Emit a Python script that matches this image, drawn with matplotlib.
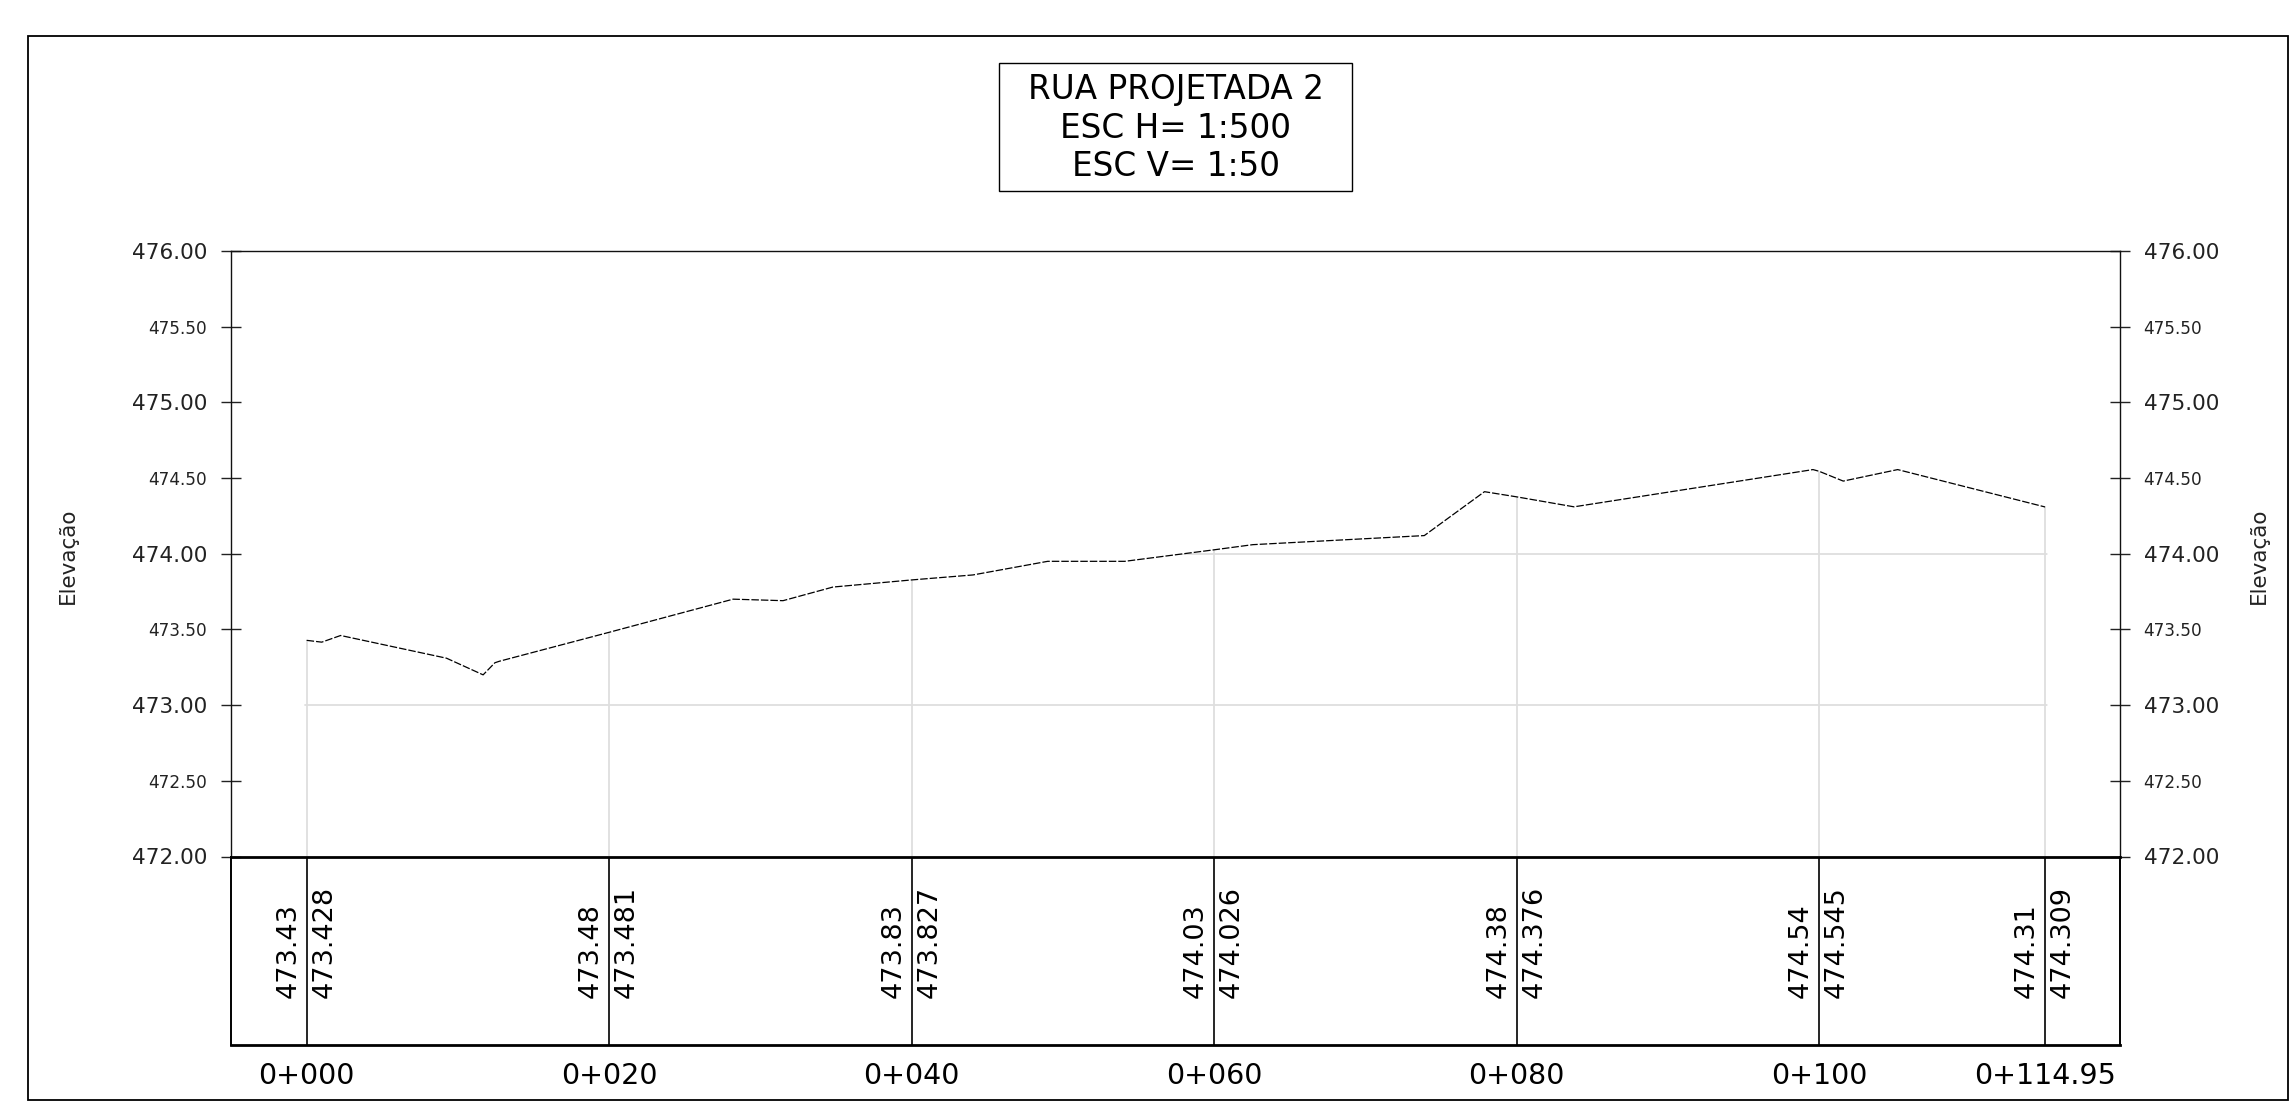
import matplotlib
matplotlib.use("Agg")
import matplotlib.pyplot as plt
from matplotlib.patches import Polygon, Rectangle
from matplotlib.ticker import FixedLocator, FormatStrFormatter
from matplotlib.transforms import ScaledTranslation, blended_transform_factory

# ---------------- data ----------------
# terrain profile (station in m, elevation in m)
profile_sta = [0, 1.0, 2.25, 9.25, 11.67, 12.45, 12.75, 20, 28.2, 31.5, 34.8, 40,
               44.06, 49.0, 54.1, 60, 62.56, 73.9, 77.88, 80, 83.8, 99.6, 100,
               101.6, 105.2, 114.95]
profile_elev = [473.428, 473.416, 473.46, 473.31, 473.20, 473.28, 473.29, 473.481,
                473.70, 473.69, 473.78, 473.827, 473.86, 473.95, 473.95, 474.026,
                474.06, 474.12, 474.41, 474.376, 474.31, 474.556, 474.545, 474.48,
                474.556, 474.309]
# stations shown in the band
stations = [0, 20, 40, 60, 80, 100, 114.95]
station_labels = ["0+000", "0+020", "0+040", "0+060", "0+080", "0+100", "0+114.95"]
band_rounded = ["473.43", "473.48", "473.83", "474.03", "474.38", "474.54", "474.31"]
band_exact = ["473.428", "473.481", "473.827", "474.026", "474.376", "474.545", "474.309"]
major_y = [472, 473, 474, 475, 476]
minor_y = [472.5, 473.5, 474.5, 475.5]
title_lines = ["RUA PROJETADA 2", "ESC H= 1:500", "ESC V= 1:50"]
y_label = "Elevação"

# ---------------- layout helpers ----------------
W, H = 2289, 1103
def fx(px):
    return px / W
def fy(py):
    return 1 - py / H

plt.rcParams['font.family'] = ['DejaVu Sans']
fig = plt.figure(figsize=(W / 100, H / 100), dpi=100)

AX_L, AX_R, AX_T, AX_B = 231, 2120, 251, 856.5
BAND_B = 1045

ax = fig.add_axes([fx(AX_L), fy(AX_B), (AX_R - AX_L) / W, (AX_B - AX_T) / H])
ax.set_xlim(-5, 119.9)
ax.set_ylim(472, 476)
ax.set_xticks([])

ax.yaxis.set_major_locator(FixedLocator(major_y))
ax.yaxis.set_minor_locator(FixedLocator(minor_y))
ax.yaxis.set_major_formatter(FormatStrFormatter('%.2f'))
ax.yaxis.set_minor_formatter(FormatStrFormatter('%.2f'))
ax.tick_params(axis='y', which='both', direction='inout', length=14, width=1,
               left=True, right=True, labelleft=True, labelright=True, pad=10,
               colors='#222222')
ax.tick_params(axis='y', which='major', labelsize=15.6)
ax.tick_params(axis='y', which='minor', labelsize=12.2)
for s in ['top', 'left', 'right']:
    ax.spines[s].set_linewidth(1.0)
    ax.spines[s].set_color('#111111')
ax.spines['bottom'].set_linewidth(2.0)
ax.spines['bottom'].set_color('black')

# clip polygon: area under the profile
verts = [(profile_sta[0] - 0.15, 472), (profile_sta[0] - 0.15, profile_elev[0])]
verts += list(zip(profile_sta, profile_elev))
verts += [(profile_sta[-1] + 0.15, profile_elev[-1]), (profile_sta[-1] + 0.15, 472)]
poly = Polygon(verts, closed=True, facecolor='none', edgecolor='none',
               transform=ax.transData)
ax.add_patch(poly)

hl = ax.hlines([473, 474], profile_sta[0] - 1, profile_sta[-1] + 1,
               colors='#dedede', lw=1.3, zorder=1)
hl.set_clip_path(poly)
vl = ax.vlines(stations, 472, 476, colors='#dedede', lw=1.3, zorder=1)
vl.set_clip_path(poly)

ax.plot(profile_sta, profile_elev, color='black', lw=0.9,
        linestyle=(0, (6, 1.6)), zorder=3)

# ---------------- band ----------------
bax = fig.add_axes([fx(AX_L), fy(BAND_B), (AX_R - AX_L) / W, (BAND_B - AX_B) / H])
bax.set_xlim(-5, 119.9)
bax.set_ylim(0, 1)
bax.set_xticks([])
bax.set_yticks([])
bax.patch.set_alpha(0)
bax.spines['top'].set_visible(False)
for s in ['left', 'right']:
    bax.spines[s].set_linewidth(1.4)
bax.spines['bottom'].set_linewidth(2.0)
bax.vlines(stations, 0, 1, colors='black', lw=1.2)

trans = blended_transform_factory(bax.transData, bax.transAxes)
y_txt = (BAND_B - 998) / (BAND_B - AX_B)
y_sta = (BAND_B - 1076) / (BAND_B - AX_B)
offL = trans + ScaledTranslation(-5 / 100, 0, fig.dpi_scale_trans)
offR = trans + ScaledTranslation(5 / 100, 0, fig.dpi_scale_trans)
for s, r, e, lab in zip(stations, band_rounded, band_exact, station_labels):
    bax.text(s, y_txt, r, rotation=90, ha='right', va='bottom', transform=offL,
             fontsize=19.5, color='black')
    bax.text(s, y_txt, e, rotation=90, ha='left', va='bottom', transform=offR,
             fontsize=19.5, color='black')
    bax.text(s, y_sta, lab, ha='center', va='center', transform=trans,
             fontsize=20.5, color='black', clip_on=False)

# ---------------- title box, frame, labels ----------------
fig.add_artist(Rectangle((fx(999), fy(191)), (1352 - 999) / W, (191 - 63) / H,
                         transform=fig.transFigure, fill=False, lw=1.0, ec='black'))
for yy, t in zip([89.7, 128.3, 166.7], title_lines):
    fig.text(fx(1175.5), fy(yy), t, ha='center', va='center', fontsize=23.5,
             color='black')

fig.add_artist(Rectangle((fx(28), fy(1100)), (2287.5 - 28) / W, (1100 - 36) / H,
                         transform=fig.transFigure, fill=False, lw=1.3, ec='black'))

fig.text(fx(67.5), fy(556), y_label, rotation=90, ha='center', va='center',
         fontsize=15.5, color='#222222')
fig.text(fx(2259), fy(556), y_label, rotation=90, ha='center', va='center',
         fontsize=15.5, color='#222222')

fig.savefig('out.png', dpi=100)
